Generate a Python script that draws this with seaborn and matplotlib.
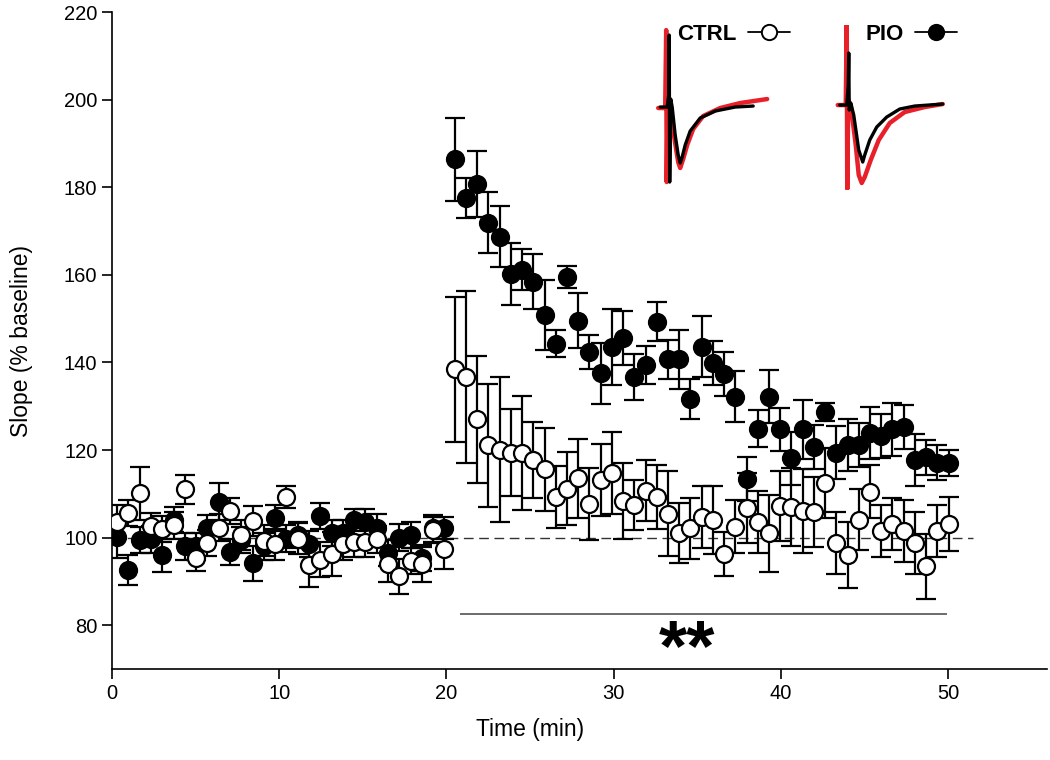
import numpy as np
import pandas as pd
import matplotlib
matplotlib.use("Agg")
import matplotlib.pyplot as plt
from matplotlib.lines import Line2D
import seaborn as sns

# ---------------- data ----------------
t_base = [0.30, 0.98, 1.65, 2.33, 3.00, 3.68, 4.35, 5.03, 5.70, 6.38, 7.05, 7.73, 8.40, 9.08, 9.75,
          10.43, 11.10, 11.78, 12.45, 13.13, 13.80, 14.48, 15.15, 15.83, 16.50, 17.18, 17.85, 18.53, 19.20, 19.88]
t_post = [20.50, 21.17, 21.84, 22.51, 23.18, 23.86, 24.53, 25.20, 25.87, 26.54, 27.21, 27.88, 28.55, 29.22, 29.89,
          30.57, 31.24, 31.91, 32.58, 33.25, 33.92, 34.59, 35.26, 35.93, 36.60, 37.28, 37.95, 38.62, 39.29, 39.96,
          40.63, 41.30, 41.97, 42.64, 43.31, 43.98, 44.66, 45.33, 46.00, 46.67, 47.34, 48.01, 48.68, 49.35, 50.02]

ctrl_base = [103.6, 105.7, 110.1, 102.6, 101.9, 102.8, 111.0, 95.3, 98.8, 102.3, 106.1, 100.6, 103.8, 99.3, 98.5,
             109.2, 99.8, 93.7, 94.9, 96.2, 98.5, 99.0, 99.0, 99.6, 93.9, 91.2, 94.7, 93.9, 101.7, 97.3]
ctrl_base_se = [3.8, 3.0, 6.0, 3.0, 3.0, 3.0, 3.3, 3.0, 3.0, 3.0, 3.0, 3.5, 3.5, 3.5, 3.5,
                2.5, 3.5, 5.0, 4.0, 5.0, 3.5, 3.5, 3.5, 3.0, 4.0, 4.0, 3.0, 4.0, 3.0, 4.5]
pio_base = [100.2, 92.6, 99.4, 99.6, 96.0, 104.1, 98.0, 98.0, 102.1, 108.2, 96.8, 99.5, 94.2, 98.0, 104.4,
            99.8, 100.6, 98.5, 104.9, 101.0, 101.0, 104.1, 103.6, 102.3, 96.5, 100.0, 100.6, 95.3, 102.1, 102.1]
pio_base_se = [4.8, 3.5, 3.0, 3.0, 3.8, 2.9, 3.0, 3.0, 3.0, 4.2, 3.0, 3.0, 4.0, 3.0, 3.0,
               3.0, 3.0, 3.0, 3.0, 3.0, 3.0, 2.5, 3.0, 3.0, 3.0, 3.0, 3.0, 3.0, 3.0, 2.5]

ctrl_post = [138.4, 136.7, 127.0, 121.1, 120.1, 119.4, 119.4, 117.7, 115.6, 109.3, 111.2, 113.5, 107.6, 113.1, 114.8,
             108.4, 107.4, 110.7, 109.3, 105.5, 101.0, 102.1, 104.7, 104.1, 96.2, 102.5, 106.7, 103.6, 101.0, 107.2,
             107.0, 106.1, 105.9, 112.4, 98.8, 96.0, 104.1, 110.5, 101.5, 103.1, 101.5, 98.8, 93.5, 101.5, 103.1]
ctrl_post_se = [16.5, 19.7, 14.5, 14.0, 16.5, 10.0, 13.0, 8.7, 9.5, 7.0, 8.4, 9.0, 8.2, 8.2, 9.4,
                8.6, 5.7, 7.0, 7.3, 9.8, 6.9, 7.0, 7.0, 7.8, 5.0, 6.0, 8.0, 7.0, 8.8, 8.0,
                9.0, 9.6, 8.0, 8.0, 7.0, 7.6, 7.0, 6.0, 6.0, 6.0, 7.0, 7.0, 7.4, 6.0, 6.2]
pio_post = [186.4, 177.5, 180.7, 171.9, 168.7, 160.2, 161.2, 158.4, 150.8, 144.3, 159.6, 149.5, 142.4, 137.5, 143.6,
            145.5, 136.7, 139.4, 149.3, 140.7, 140.7, 131.6, 143.6, 139.8, 137.3, 132.2, 113.3, 124.9, 132.2, 124.7,
            118.1, 124.7, 120.7, 128.7, 119.4, 121.1, 121.1, 123.9, 123.2, 124.7, 125.3, 117.7, 118.3, 117.1, 117.1]
pio_post_se = [9.5, 4.5, 7.5, 7.0, 7.0, 7.0, 4.6, 6.3, 8.0, 3.0, 2.5, 6.3, 3.8, 6.9, 8.7,
               6.2, 5.3, 4.3, 4.5, 4.5, 6.7, 4.6, 7.0, 5.0, 5.0, 5.8, 5.0, 4.2, 6.0, 5.0,
               6.0, 6.7, 5.0, 2.0, 6.0, 6.0, 5.0, 6.0, 5.0, 6.0, 5.0, 6.0, 4.0, 4.0, 3.0]

# example traces (inset), relative time / amplitude units
ctrl_tr_x_black = [5, 12, 13.5, 14, 14.5, 15.5, 17, 20, 23, 25, 27, 30, 35, 45, 60, 80, 98]
ctrl_tr_y_black = [-2, -2, 10, 70, -77, 6, -2, -30, -50, -58, -52, -40, -26, -13, -6, -2, -1]
ctrl_tr_x_red = [3, 10, 11, 11.5, 12.5, 15, 19, 23, 25, 28, 32, 38, 48, 65, 85, 112]
ctrl_tr_y_red = [-3, -3, 75, -77, 8, 0, -32, -57, -63, -54, -40, -24, -11, -3, 2, 6]
pio_tr_x_black = [5, 12, 13.5, 14, 14.5, 16, 19, 24, 28, 30, 35, 42, 52, 65, 80, 108]
pio_tr_y_black = [0, 0, 20, 52, -5, 2, -10, -45, -57, -50, -35, -22, -12, -4, -1, 1]
pio_tr_x_red = [3, 11, 12, 12.5, 13.5, 16, 21, 24, 27, 30, 36, 44, 55, 70, 90, 108]
pio_tr_y_red = [0, 0, 82, -84, 5, 0, -40, -70, -78, -72, -55, -35, -18, -7, -2, 1]

legend_labels = ["CTRL", "PIO"]

# ---------------- build frames ----------------
df = pd.concat([
    pd.DataFrame({"time": t_base + t_post, "slope": ctrl_base + ctrl_post,
                  "se": ctrl_base_se + ctrl_post_se, "group": "CTRL"}),
    pd.DataFrame({"time": t_base + t_post, "slope": pio_base + pio_post,
                  "se": pio_base_se + pio_post_se, "group": "PIO"}),
])

sns.set_style("ticks")
plt.rcParams["font.family"] = ["Liberation Sans", "DejaVu Sans"]
for k in ["text.color", "axes.labelcolor", "xtick.color", "ytick.color", "axes.edgecolor"]:
    plt.rcParams[k] = "black"

fig = plt.figure(figsize=(10.5, 7.6), dpi=100)
ax = fig.add_axes([0.1067, 0.1197, 0.8903, 0.8645])

styles = {"PIO": dict(fc="black", z=3), "CTRL": dict(fc="white", z=5)}
for grp in ["PIO", "CTRL"]:
    d = df[df.group == grp]
    st = styles[grp]
    ax.errorbar(d["time"], d["slope"], yerr=d["se"], fmt="none", ecolor="black",
                elinewidth=1.6, capsize=7.5, capthick=1.6, zorder=st["z"])
    sns.scatterplot(data=d, x="time", y="slope", ax=ax, marker="o", s=150,
                    facecolor=st["fc"], edgecolor="black", linewidth=1.6,
                    zorder=st["z"] + 1, legend=False)

ax.hlines(100, 0, 51.5, colors="#333333", linestyles=(0, (7, 4)), linewidth=1.0, zorder=1)
ax.hlines(82.5, 20.8, 49.9, colors="#444444", linewidth=1.1)
ax.text(34.4, 74.2, "**", ha="center", va="center", fontsize=52, fontweight="bold")

ax.set_xlim(0, 55.9)
ax.set_ylim(70, 220)
ax.set_xticks([0, 10, 20, 30, 40, 50])
ax.set_yticks([80, 100, 120, 140, 160, 180, 200, 220])
ax.tick_params(axis="both", labelsize=14.5, length=7, width=1.2, direction="out", color="black")
for s in ["left", "bottom"]:
    ax.spines[s].set_linewidth(1.2)
    ax.spines[s].set_color("black")
sns.despine(ax=ax)
ax.set_xlabel("Time (min)", fontsize=16.5)
ax.set_ylabel("Slope (% baseline)", fontsize=16.5)
ax.xaxis.set_label_coords(25 / 55.9, -0.075)
ax.yaxis.set_label_coords(-0.085, 0.5)

# legend
handles = [Line2D([], [], color="black", lw=1.3, marker="o", ms=11, mfc="white", mec="black", mew=1.4),
           Line2D([], [], color="black", lw=1.3, marker="o", ms=11, mfc="black", mec="black", mew=1.4)]
leg = fig.legend(handles, legend_labels, ncol=2, markerfirst=False, frameon=False,
                 loc="center left", bbox_to_anchor=(0.645, 0.955), borderpad=0, borderaxespad=0,
                 handlelength=1.9, handletextpad=0.5, columnspacing=3.4,
                 prop={"weight": "bold", "size": 16})

# inset traces
for left, xs_r, ys_r, xs_b, ys_b in [
        (0.624, ctrl_tr_x_red, ctrl_tr_y_red, ctrl_tr_x_black, ctrl_tr_y_black),
        (0.795, pio_tr_x_red, pio_tr_y_red, pio_tr_x_black, pio_tr_y_black)]:
    ia = fig.add_axes([left, 0.75, 0.119, 0.217])
    ia.plot(xs_r, ys_r, color="#e8202a", lw=3.2, solid_joinstyle="round")
    ia.plot(xs_b, ys_b, color="black", lw=2.4, solid_joinstyle="round")
    ia.set_xlim(0, 125)
    ia.set_ylim(-85, 80)
    ia.axis("off")
    ia.patch.set_alpha(0)

fig.savefig("out.png", dpi=100)
